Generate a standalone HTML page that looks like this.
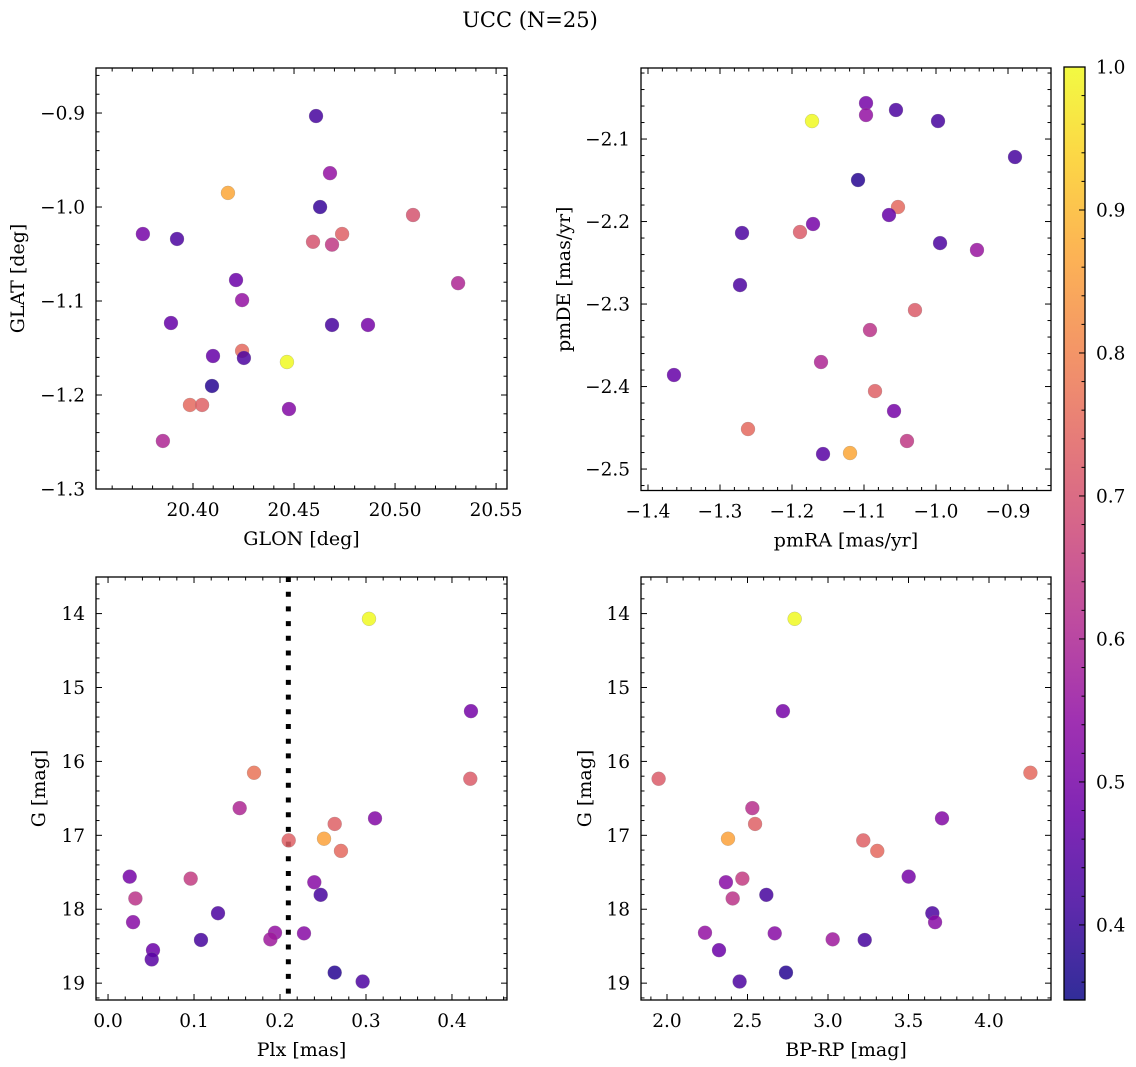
<!DOCTYPE html>
<html><head><meta charset="utf-8"><style>
html,body{margin:0;padding:0;background:#fff;}
svg{display:block;font-family:"DejaVu Serif","Liberation Serif",serif;}
</style></head><body>
<svg id="fig" width="1136" height="1067" viewBox="0 0 1136 1067" xmlns="http://www.w3.org/2000/svg">
<rect width="1136" height="1067" fill="#fff"/>
<text x="530" y="27" font-size="21" text-anchor="middle">UCC (N=25)</text>
</svg>
<script>
// Panel 1: GLON vs GLAT
const glon = [20.4609,20.4678,20.4173,20.4629,20.5089,20.3752,20.3921,20.4594,20.4738,20.4688,20.4213,20.5312,20.4243,20.3891,20.4688,20.4866,20.4099,20.4243,20.4252,20.4465,20.4094,20.3985,20.4045,20.4475,20.3851];
const glat = [-0.9032,-0.964,-0.985,-1.0,-1.0085,-1.0287,-1.034,-1.037,-1.0287,-1.04,-1.0777,-1.081,-1.099,-1.1234,-1.1255,-1.1255,-1.1585,-1.153,-1.1606,-1.1649,-1.1904,-1.2106,-1.2106,-1.2149,-1.2489];
const prob1 = [0.42,0.55,0.87,0.40,0.70,0.50,0.43,0.70,0.73,0.64,0.48,0.60,0.55,0.47,0.42,0.50,0.47,0.75,0.43,1.0,0.38,0.75,0.73,0.52,0.60];
// Panel 2: pmRA vs pmDE
const pmra = [-1.0972,-1.0556,-1.0972,-1.1722,-0.9972,-0.8903,-1.1083,-1.0528,-1.0653,-1.1708,-1.1889,-1.2694,-0.9944,-0.9431,-1.2722,-1.0292,-1.0917,-1.1597,-1.3639,-1.0847,-1.0583,-1.0403,-1.2611,-1.1569,-1.1194];
const pmde = [-2.0564,-2.0648,-2.0709,-2.0782,-2.0782,-2.1218,-2.1497,-2.1824,-2.1921,-2.203,-2.2127,-2.2139,-2.2261,-2.2345,-2.277,-2.3073,-2.3315,-2.3703,-2.386,-2.4055,-2.4297,-2.466,-2.4515,-2.4818,-2.4806];
const prob2 = [0.50,0.43,0.55,1.0,0.42,0.42,0.38,0.75,0.47,0.50,0.72,0.43,0.43,0.56,0.43,0.72,0.63,0.60,0.47,0.73,0.50,0.64,0.75,0.45,0.87];
// Panel 3: Plx vs G
const plx = [0.3035,0.4221,0.1698,0.4213,0.1531,0.3105,0.2636,0.2512,0.2101,0.2709,0.0252,0.0961,0.2399,0.2473,0.0318,0.1279,0.0291,0.1942,0.2279,0.1888,0.1081,0.0523,0.0508,0.2636,0.2961];
const gmag3 = [14.071,15.32,16.154,16.235,16.632,16.77,16.846,17.046,17.069,17.211,17.559,17.586,17.635,17.805,17.854,18.054,18.175,18.318,18.326,18.407,18.416,18.554,18.679,18.857,18.978];
const prob3 = [1.0,0.50,0.77,0.72,0.60,0.52,0.73,0.86,0.73,0.75,0.50,0.65,0.53,0.42,0.63,0.43,0.53,0.55,0.53,0.57,0.42,0.48,0.45,0.38,0.43];
const plxLine = 0.2097;
// Panel 4: BP-RP vs G
const bprp = [2.793,2.720,4.257,1.948,2.530,3.708,2.547,2.379,3.219,3.306,3.501,2.468,2.366,2.617,2.408,3.648,3.665,2.669,2.236,3.029,3.228,2.323,2.451,2.739];
const gmag4 = [14.071,15.32,16.154,16.235,16.632,16.77,16.846,17.046,17.069,17.211,17.559,17.586,17.635,17.805,17.854,18.054,18.175,18.326,18.318,18.407,18.416,18.554,18.978,18.857];
const prob4 = [1.0,0.50,0.75,0.72,0.62,0.52,0.73,0.86,0.73,0.75,0.50,0.65,0.53,0.42,0.63,0.43,0.53,0.53,0.55,0.57,0.42,0.48,0.43,0.38];
// Colorbar
const cbTicks = [0.4,0.5,0.6,0.7,0.8,0.9,1.0];
const cbMin = 0.3475, cbMax = 1.0;

const NS = "http://www.w3.org/2000/svg";
const svg = document.getElementById('fig');
function mk(tag, attrs, parent){const e=document.createElementNS(NS,tag);for(const k in attrs)e.setAttribute(k,attrs[k]);(parent||svg).appendChild(e);return e;}

const TICK_FS = 18.5, LABEL_FS = 19;
const plasma=[[13,8,135],[65,4,157],[106,0,168],[143,13,164],[177,42,144],[204,71,120],[225,100,98],[242,132,75],[252,166,54],[252,206,37],[240,249,33]];
function cmap(p){let t=(p-cbMin)/(cbMax-cbMin);t=Math.max(0,Math.min(1,t))*10;const i=Math.min(9,Math.floor(t)),f=t-i;const a=plasma[i],b=plasma[i+1];return 'rgb('+a.map((v,k)=>Math.round(v+(b[k]-v)*f)).join(',')+')';}
function fmt(v,d){const s=Math.abs(v).toFixed(d);return (v<-1e-9?'\u2212':'')+s;}

function panel(cfg){
  const {name,L,R,T,B,xmin,xmax,ymin,ymax,xs,ys,ps,xMaj,xMin,yMaj,yMin,xd,yd,xlabel,ylabel,ylabelX,invertY}=cfg;
  const sx=v=>L+(v-xmin)/(xmax-xmin)*(R-L);
  const sy=invertY? v=>T+(v-ymin)/(ymax-ymin)*(B-T) : v=>B-(v-ymin)/(ymax-ymin)*(B-T);
  const g=mk('g',{});
  
  
  const ticks=mk('g',{stroke:'#000','stroke-width':1},g);
  
  
  const lo=Math.min(xmin,xmax),hi=Math.max(xmin,xmax);
  for(let k=Math.ceil(lo/xMin-1e-6);k*xMin<=hi+1e-9;k++){const v=k*xMin;const x=sx(v);const isMaj=Math.abs(v/xMaj-Math.round(v/xMaj))<1e-4;const len=isMaj?6:3.5;
    mk('line',{x1:x,x2:x,y1:B,y2:B-len},ticks);mk('line',{x1:x,x2:x,y1:T,y2:T+len},ticks);
    if(isMaj){const t=mk('text',{x:x,y:B+27,'font-size':TICK_FS,'text-anchor':'middle',stroke:'none'},g);t.textContent=fmt(v,xd);
      
      }}
  const ylo=Math.min(ymin,ymax),yhi=Math.max(ymin,ymax);
  for(let k=Math.ceil(ylo/yMin-1e-6);k*yMin<=yhi+1e-9;k++){const v=k*yMin;const y=sy(v);const isMaj=Math.abs(v/yMaj-Math.round(v/yMaj))<1e-4;const len=isMaj?6:3.5;
    mk('line',{x1:L,x2:L+len,y1:y,y2:y},ticks);mk('line',{x1:R,x2:R-len,y1:y,y2:y},ticks);
    if(isMaj){const t=mk('text',{x:L-11,y:y+6.5,'font-size':TICK_FS,'text-anchor':'end',stroke:'none'},g);t.textContent=fmt(v,yd);
      
      }}
  if(cfg.vline!==undefined){const l=mk('line',{x1:sx(cfg.vline),x2:sx(cfg.vline),y1:T,y2:B,stroke:'#000','stroke-width':5,'stroke-dasharray':'5,9.7'},g);
    
    }
  const pts=mk('g',{},g);
  
  
  xs.forEach((xv,i)=>{const c=mk('circle',{cx:sx(xv),cy:sy(ys[i]),r:7,fill:cmap(ps[i]),'fill-opacity':0.85,stroke:'#888','stroke-width':0.4,'stroke-opacity':0.6},pts);
    
    });
  const fr=mk('rect',{x:L,y:T,width:R-L,height:B-T,fill:'none',stroke:'#000','stroke-width':1.3},g);
  
  
  const xl=mk('text',{x:(L+R)/2,y:B+56,'font-size':LABEL_FS,'text-anchor':'middle'},g);xl.textContent=xlabel;
  
  
  const yl=mk('text',{x:ylabelX,y:(T+B)/2,'font-size':LABEL_FS,'text-anchor':'middle',transform:`rotate(-90 ${ylabelX} ${(T+B)/2})`},g);yl.textContent=ylabel;
  
  
}

panel({name:'glon-glat-panel',L:96,R:507,T:68,B:489,xmin:20.352,xmax:20.5554,ymin:-1.3,ymax:-0.8521,xs:glon,ys:glat,ps:prob1,xMaj:0.05,xMin:0.01,yMaj:0.1,yMin:0.02,xd:2,yd:1,xlabel:'GLON [deg]',ylabel:'GLAT [deg]',ylabelX:24});
panel({name:'pm-panel',L:641,R:1051,T:68,B:490.5,xmin:-1.4097,xmax:-0.8403,ymin:-2.526,ymax:-2.0139,xs:pmra,ys:pmde,ps:prob2,xMaj:0.1,xMin:0.02,yMaj:0.1,yMin:0.02,xd:1,yd:1,xlabel:'pmRA [mas/yr]',ylabel:'pmDE [mas/yr]',ylabelX:570});
panel({name:'plx-g-panel',L:96,R:507,T:577,B:1000,xmin:-0.014,xmax:0.464,ymin:13.505,ymax:19.228,invertY:true,xs:plx,ys:gmag3,ps:prob3,xMaj:0.1,xMin:0.02,yMaj:1,yMin:0.2,xd:1,yd:0,xlabel:'Plx [mas]',ylabel:'G [mag]',ylabelX:45,vline:plxLine});
panel({name:'cmd-panel',L:641,R:1051,T:577,B:1000,xmin:1.8385,xmax:4.385,ymin:13.505,ymax:19.228,invertY:true,xs:bprp,ys:gmag4,ps:prob4,xMaj:0.5,xMin:0.1,yMaj:1,yMin:0.2,xd:1,yd:0,xlabel:'BP-RP [mag]',ylabel:'G [mag]',ylabelX:591});

// colorbar
(function(){
  const L=1064,R=1085,T=67,B=1000;
  const defs=mk('defs',{});
  const grad=mk('linearGradient',{id:'cbg',x1:0,y1:1,x2:0,y2:0},defs);
  for(let i=0;i<=20;i++){const p=cbMin+(cbMax-cbMin)*i/20;mk('stop',{offset:i/20,'stop-color':cmap(p),'stop-opacity':0.85},grad);}
  const g=mk('g',{});
  
  
  mk('rect',{x:L,y:T,width:R-L,height:B-T,fill:'url(#cbg)'},g);
  const sy=v=>B-(v-cbMin)/(cbMax-cbMin)*(B-T);
  for(let k=Math.ceil(cbMin/0.02-1e-6);k*0.02<=cbMax+1e-9;k++){const v=k*0.02;const y=sy(v);const maj=Math.abs(v*10-Math.round(v*10))<1e-4;
    mk('line',{x1:R,x2:R-(maj?6:3.5),y1:y,y2:y,stroke:'#000','stroke-width':1},g);}
  cbTicks.forEach(v=>{const t=mk('text',{x:R+11,y:sy(v)+6.5,'font-size':TICK_FS},g);t.textContent=v.toFixed(1);
    
    });
  mk('rect',{x:L,y:T,width:R-L,height:B-T,fill:'none',stroke:'#000','stroke-width':1.3},g);
})();
</script>
</body></html>
